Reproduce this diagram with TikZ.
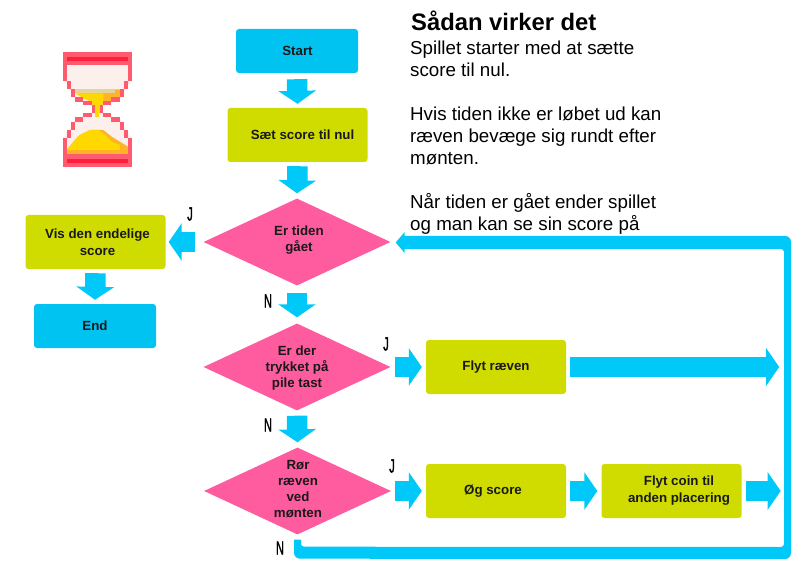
\documentclass[tikz,border=0pt]{standalone}
\usepackage{fontspec}
\setmainfont{Liberation Sans}
\newfontfamily\ynfont[FakeBold=2.2]{Liberation Sans}
\usetikzlibrary{shapes.geometric,arrows.meta,calc}
\definecolor{flowblue}{HTML}{00C8F8}
\definecolor{boxblue}{HTML}{00C3F2}
\definecolor{lime}{HTML}{D0DC00}
\definecolor{pinkd}{HTML}{FF5CA0}
\definecolor{glassred}{HTML}{FF5A6E}
\definecolor{glassdark}{HTML}{FF1E3C}
\definecolor{glasspale}{HTML}{FCF0EC}
\definecolor{sand}{HTML}{FFD800}
\definecolor{sandor}{HTML}{FFB428}
\definecolor{sandtan}{HTML}{E4D39A}
\tikzset{
  x=1pt,y=-1pt,
  box/.style={rounded corners=3pt,fill=lime,inner sep=0pt,minimum height=54pt,align=center,font=\fontsize{13.3}{17}\selectfont\bfseries,text=black!90},
  blue box/.style={box,fill=boxblue,minimum height=44pt,minimum width=122pt},
  lime box/.style={box,minimum width=140pt},
  decision/.style={diamond,aspect=2.16,fill=pinkd,inner sep=0pt,minimum width=187pt,minimum height=87pt},
  dtext/.style={align=center,inner sep=0pt,font=\fontsize{13.3}{16.2}\selectfont\bfseries,text=black!90},
  yn/.style={inner sep=0pt,font=\fontsize{19}{19}\selectfont\ynfont,xscale=.58,transform shape},
  flow/.style={draw=flowblue,line width=20.5pt,-{Triangle[length=13pt,width=37pt,fill=flowblue]}},
  body/.style={align=left,anchor=north west,inner sep=0pt,font=\fontsize{18.75}{22}\selectfont}
}
\begin{document}
\begin{tikzpicture}
\useasboundingbox (0,0) rectangle (808,569);

% hourglass (drawn in 3x crop coordinates)
\begin{scope}[shift={(40,30)},x=.3333pt,y=-.3333pt]
  \fill[glasspale] (68,105) -- (276,105) -- (276,150) -- (240,200) -- (172,240) -- (240,270) -- (276,325) -- (276,372) -- (68,372) -- (68,325) -- (105,270) -- (172,240) -- (105,200) -- (68,150) -- cycle;
  \fill[sandor] (105,178) -- (240,178) -- (240,200) -- (215,215) -- (190,215) -- (178,250) -- (165,250) -- (155,215) -- (130,205) -- cycle;
  \fill[sandtan] (105,178) -- (225,178) -- (225,190) -- (105,190) -- cycle;
  \fill[sand] (105,190) -- (190,190) -- (190,215) -- (178,250) -- (165,250) -- (155,215) -- (130,205) -- cycle;
  \fill[sand] (165,250) rectangle (178,262);
  \fill[sandor] (80,372) -- (264,372) -- (264,350) -- (240,335) -- (215,320) -- (190,300) -- (150,300) -- (120,315) -- (105,330) -- (92,345) -- (80,360) -- cycle;
  \fill[sand] (80,360) -- (240,360) -- (240,345) -- (215,335) -- (190,310) -- (175,300) -- (150,300) -- (120,315) -- (105,330) -- (92,345) -- cycle;
  \fill[glassred] (68,66) rectangle (276,105);
  \fill[glassred] (68,372) rectangle (276,410);
  \fill[glassdark] (80,80) rectangle (264,92);
  \fill[glassdark] (80,386) rectangle (264,398);
  \foreach \xa/\ya/\xb/\yb in {68/105/80/152, 80/152/92/178, 92/178/105/200, 105/200/130/215, 130/213/155/225, 155/225/165/250,
                               130/250/155/262, 105/260/130/275, 92/275/105/300, 80/300/92/325, 68/325/80/372}{
    \fill[glassred] (\xa,\ya) rectangle (\xb,\yb);
    \fill[glassred] (344-\xa,\ya) rectangle (344-\xb,\yb);
  }
\end{scope}

% nodes
\node[blue box] (start) at (297,51) {\raisebox{-1.5pt}{\hspace*{1pt}Start}};
\node[lime box] (score) at (297.5,135) {\raisebox{-.5pt}{\hspace*{10pt}Sæt score til nul}};
\node[decision] (d1) at (297,242) {};
\node[dtext] (d1t) at (299,240) {Er tiden\\gået};
\node[lime box] (vis) at (95.5,242) {\hspace*{4pt}Vis den endelige\\\hspace*{4pt}score};
\node[blue box] (end) at (95,326) {\raisebox{-1.5pt}{End}};
\node[decision] (d2) at (297,367) {};
\node[dtext] (d2t) at (297,368) {Er der\\trykket på\\pile tast};
\node[lime box] (flyt) at (496,367) {\raisebox{1pt}{Flyt ræven}};
\node[decision] (d3) at (297.5,491) {};
\node[dtext] (d3t) at (298,489) {Rør\\ræven\\ved\\mønten};
\node[lime box] (oeg) at (496,491) {\raisebox{-1pt}{\hspace*{-6pt}Øg score}};
\node[lime box] (coin) at (671.5,491) {\hspace*{15pt}Flyt coin til\\\hspace*{15pt}anden placering};

% labels
\node[yn] (j1) at (190,214) {J};
\node[yn] (n1) at (268,301) {N};
\node[yn] (j2) at (386,344) {J};
\node[yn] (n2) at (268,425) {N};
\node[yn] (j3) at (392,466) {J};
\node[yn] (n3) at (280,548) {N};

% text
\node[body,font=\fontsize{23.8}{26}\selectfont\bfseries] (title) at (411,11) {Sådan virker det};
\node[body] (txt) at (410,40.5) {Spillet starter med at sætte\\score til nul.\\[22pt]Hvis tiden ikke er løbet ud kan\\ræven bevæge sig rundt efter\\mønten.\\[22pt]Når tiden er gået ender spillet\\og man kan se sin score på};

% connectors
\draw[flow] ($(start.south)+(0,6)$) -- ($(score.north)+(0,-4)$);
\draw[flow] ($(score.south)+(0,4)$) -- ($(d1.north)+(0,-5)$);
\draw[flow] ($(d1.west)+(-8,0)$) -- ($(vis.east)+(3,0)$);
\draw[flow] ($(vis.south)+(0,4)$) -- ($(end.north)+(0,-4)$);
\draw[flow] ($(d1.south)+(0,7)$) -- ($(d2.north)+(0,-6)$);
\draw[flow] ($(d2.south)+(0,5)$) -- ($(d3.north)+(0,-5)$);
\draw[flow] ($(d2.east)+(4,0)$) -- ($(flyt.west)+(-4,0)$);
\draw[flow] ($(flyt.east)+(4,0)$) -- ++(209,0) coordinate (flytend);
\draw[flow] ($(d3.east)+(4,0)$) -- ($(oeg.west)+(-4,0)$);
\draw[flow] ($(oeg.east)+(4,0)$) -- ($(coin.west)+(-4,0)$);
\draw[flow] ($(coin.east)+(4,0)$) -- ++(35,0) coordinate (coinend);

% return loop
\coordinate (loopbr) at (791,559);
\coordinate (looptr) at (791,236);
\fill[flowblue]
  ($(d3.south)+(-3.5,5)$)
  [rounded corners=6pt] -- ($(d3.south)+(-3.5,24)$) -- (loopbr) -- (looptr)
  [sharp corners] -- ($(d1.east)+(14,-6)$) -- ($(d1.east)+(14,-10)$) -- ($(d1.east)+(5,0.5)$) -- ($(d1.east)+(14,11)$) -- ($(d1.east)+(14,7)$)
  [rounded corners=3pt] -- ($(looptr)+(-7,13)$) -- ($(loopbr)+(-7,-12)$) -- ($(d3.south)+(3.5,12)$)
  [sharp corners] -- ($(d3.south)+(3.5,5)$) -- cycle;
\end{tikzpicture}
\end{document}
